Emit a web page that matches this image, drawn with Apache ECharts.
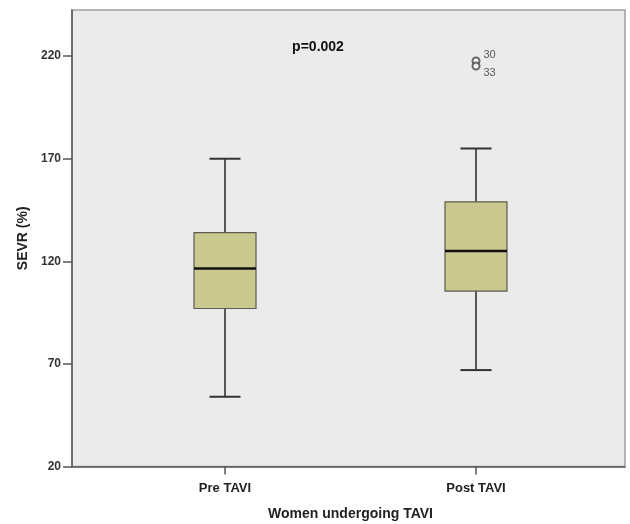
<!DOCTYPE html>
<html>
<head>
<meta charset="utf-8">
<script src="https://cdn.jsdelivr.net/npm/echarts@6/dist/echarts.min.js"></script>
<style>
  html, body { margin: 0; padding: 0; background: #fff; }
  #chart { width: 630px; height: 524px; }
</style>
</head>
<body>
<div id="chart"></div>
<script>
// categories and box statistics
var categories = ["Pre TAVI", "Post TAVI"];
var whiskerLow = [54, 67];
var q1 = [97, 105.5];
var median = [116.5, 125];
var q3 = [134, 149];
var whiskerHigh = [170, 175];

// outliers (Post TAVI)
var outlierCat = [1, 1];
var outlierValues = [217.7, 215.2];
var outlierIds = ["30", "33"];

var yTicks = [20, 70, 120, 170, 220];
var pText = "p=0.002";

var boxData = categories.map(function (c, i) {
  return [i, whiskerLow[i], q1[i], median[i], q3[i], whiskerHigh[i]];
});

var chart = echarts.init(document.getElementById("chart"));

var gridTop = 10, gridBottom = 57.5;

function renderBox(params, api) {
  var idx = api.value(0);
  var pLow = api.coord([idx, api.value(1)]);
  var pQ1 = api.coord([idx, api.value(2)]);
  var pMed = api.coord([idx, api.value(3)]);
  var pQ3 = api.coord([idx, api.value(4)]);
  var pHigh = api.coord([idx, api.value(5)]);
  var x = pMed[0];
  var halfBox = 31, halfCap = 15.5;
  var whisker = { stroke: "#333", lineWidth: 1.6 };
  return {
    type: "group",
    children: [
      { type: "line", shape: { x1: x, y1: pQ3[1], x2: x, y2: pHigh[1] }, style: whisker },
      { type: "line", shape: { x1: x, y1: pQ1[1], x2: x, y2: pLow[1] }, style: whisker },
      { type: "line", shape: { x1: x - halfCap, y1: pHigh[1], x2: x + halfCap, y2: pHigh[1] }, style: { stroke: "#333", lineWidth: 2 } },
      { type: "line", shape: { x1: x - halfCap, y1: pLow[1], x2: x + halfCap, y2: pLow[1] }, style: { stroke: "#333", lineWidth: 2 } },
      {
        type: "rect",
        shape: { x: x - halfBox, y: pQ3[1], width: halfBox * 2, height: pQ1[1] - pQ3[1] },
        style: { fill: "#c9c88f", stroke: "#5c5c50", lineWidth: 1.2 }
      },
      { type: "line", shape: { x1: x - halfBox, y1: pMed[1], x2: x + halfBox, y2: pMed[1] }, style: { stroke: "#111", lineWidth: 2.4 } }
    ]
  };
}

chart.setOption({
  animation: false,
  backgroundColor: "#fff",
  grid: [
    {
      left: 72, right: 5, top: gridTop, bottom: gridBottom, outerBoundsMode: "none",
      show: true, backgroundColor: "#ebebeb", borderColor: "#a0a0a0", borderWidth: 1.5
    },
    { left: 99.5, right: 28.5, top: gridTop, bottom: gridBottom, outerBoundsMode: "none" }
  ],
  xAxis: [
    {
      type: "value", gridIndex: 0, min: 0, max: 1,
      axisLine: { show: true, lineStyle: { color: "#555", width: 1.5 } },
      axisTick: { show: false }, axisLabel: { show: false }, splitLine: { show: false }
    },
    {
      type: "category", gridIndex: 1, data: categories,
      axisLine: { show: false },
      axisTick: { show: true, alignWithLabel: true, length: 8, lineStyle: { color: "#555", width: 1.5 } },
      axisLabel: { margin: 15, color: "#222", fontSize: 13, fontWeight: "bold", fontFamily: "Liberation Sans" },
      name: "Women undergoing TAVI", nameLocation: "middle", nameGap: 41,
      nameTextStyle: { color: "#222", fontSize: 14, fontWeight: "bold", fontFamily: "Liberation Sans" }
    }
  ],
  yAxis: [
    {
      type: "value", gridIndex: 0, min: 20, max: 242.5,
      axisLine: { show: true, lineStyle: { color: "#555", width: 1.5 } },
      axisTick: { show: true, length: 9, customValues: yTicks, lineStyle: { color: "#555", width: 1.5 } },
      axisLabel: {
        customValues: yTicks, margin: 11, color: "#333", fontSize: 12, fontWeight: "bold",
        fontFamily: "Liberation Sans Narrow, Liberation Sans"
      },
      splitLine: { show: false },
      name: "SEVR (%)", nameLocation: "middle", nameGap: 40,
      nameTextStyle: { color: "#222", fontSize: 14, fontWeight: "bold", fontFamily: "Liberation Sans" }
    },
    {
      type: "value", gridIndex: 1, min: 20, max: 242.5, show: false
    }
  ],
  graphic: [
    {
      type: "text", x: 318, y: 47,
      style: {
        text: pText, align: "center", verticalAlign: "middle",
        fill: "#111", fontSize: 14, fontWeight: "bold", fontFamily: "Liberation Sans"
      }
    }
  ],
  series: [
    {
      type: "custom", xAxisIndex: 1, yAxisIndex: 1,
      renderItem: renderBox, data: boxData, encode: { x: 0, y: [1, 2, 3, 4, 5] }
    },
    {
      type: "scatter", xAxisIndex: 1, yAxisIndex: 1,
      symbol: "emptyCircle", symbolSize: 7,
      itemStyle: { color: "#444", borderColor: "#444", borderWidth: 1.2 },
      data: outlierCat.map(function (c, i) {
        return {
          value: [c, outlierValues[i]],
          label: {
            show: true, formatter: outlierIds[i], position: "right",
            offset: i === 0 ? [-2, -6] : [-2, 7],
            color: "#333", fontSize: 11, fontFamily: "Liberation Sans Narrow, Liberation Sans"
          }
        };
      })
    }
  ]
});
</script>
</body>
</html>
